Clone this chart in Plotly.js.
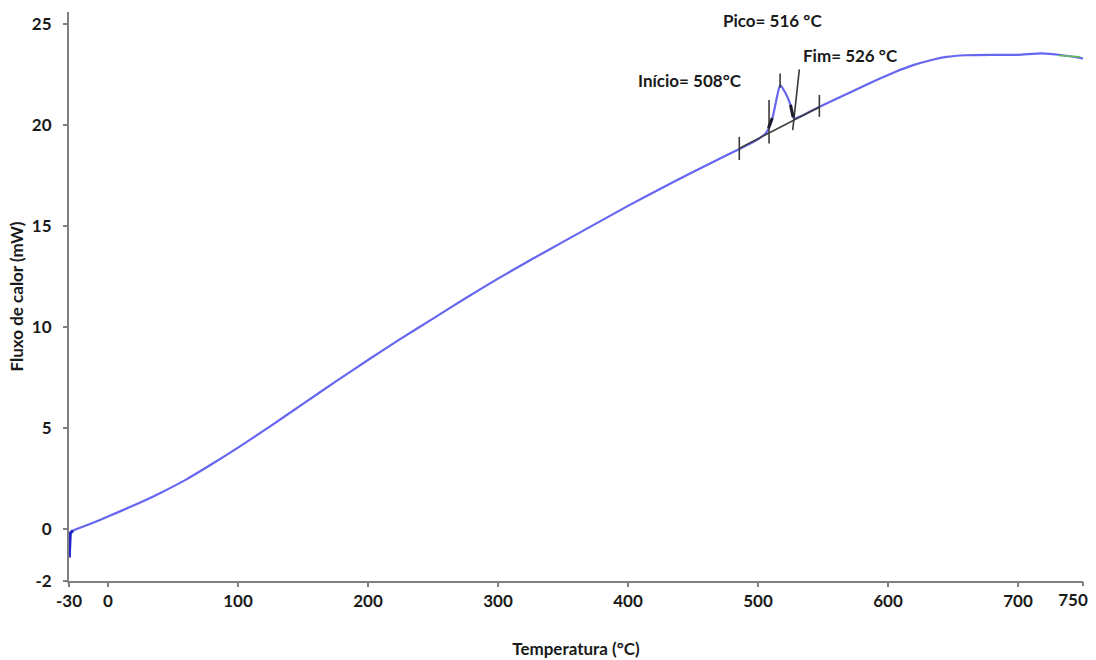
<!DOCTYPE html>
<html>
<head>
<meta charset="utf-8">
<script src="https://cdn.plot.ly/plotly-3.0.1.min.js"></script>
<style>
  html, body { margin: 0; padding: 0; background: #ffffff; }
  #chart { width: 1096px; height: 660px; }
</style>
</head>
<body>
<div id="chart"></div>
<script>
// DSC heating curve: heat flow (mW) versus temperature (°C)
const temperatura = [
  -29.8, -29.6, -29.4, -29.0, -27, -20, -10, 0, 20, 40, 60, 80, 100, 125, 150, 175, 200,
  225, 250, 275, 300, 325, 350, 375, 400, 425, 450, 475, 487, 500, 506, 509, 511.5, 514, 517,
  521, 525, 527.5, 535, 547, 572, 590, 605, 620, 632, 645, 660, 680, 700, 718, 733, 750
];
const fluxoCalor = [
  -1.4, -1.0, -0.5, -0.2, -0.08, 0.1, 0.35, 0.62, 1.18, 1.78, 2.45, 3.22, 4.03, 5.1, 6.2, 7.3, 8.37,
  9.42, 10.42, 11.43, 12.4, 13.32, 14.22, 15.11, 16.0, 16.85, 17.68, 18.48, 18.86, 19.3, 19.6, 19.95, 20.45, 21.2, 21.98,
  21.6, 21.0, 20.33, 20.5, 20.9, 21.65, 22.2, 22.62, 22.98, 23.2, 23.38, 23.46, 23.48, 23.48, 23.55, 23.47, 23.3
];

// Peak construction: extrapolated baseline and marker ticks
const baseT = [485.6, 547.2];
const baseY = [18.85, 20.9];
const marcasT = [485.6, 485.6, null, 508.5, 508.5, null, 517, 517, null, 531.8, 526.7, null, 547.2, 547.2];
const marcasY = [19.42, 18.27, null, 21.24, 19.09, null, 22.56, 21.85, null, 22.76, 19.75, null, 21.49, 20.41];
// heavier black strokes where onset and end meet the curve
const realceT = [508, 509.5, 511, null, 525, 526, 527];
const realceY = [19.85, 20.1, 20.35, null, 21.0, 20.7, 20.4];
// short green segment near the end of the run
const finalT = [731, 748];
const finalY = [23.45, 23.38];

const xTicks = [-30, 0, 100, 200, 300, 400, 500, 600, 700];
const xTickFinal = [750];   // drawn on a twin axis so its label can sit left of the tick
const yTickVals = [-2.57, 0, 5, 10, 15, 20, 25];
const yTickText = ['-2', '0', '5', '10', '15', '20', '25'];

const labelFont = { family: 'Lato, "Open Sans", sans-serif', size: 17, color: '#1a1a1a', weight: 700 };

const traces = [
  { x: temperatura, y: fluxoCalor, mode: 'lines', line: { color: '#6666f0', width: 2.2, shape: 'spline', smoothing: 0.5 }, hoverinfo: 'x+y' },
  { x: temperatura.slice(0, 5), y: fluxoCalor.slice(0, 5), mode: 'lines', line: { color: '#2323c8', width: 3 } },
  { x: baseT, y: baseY, mode: 'lines', line: { color: '#3a3a3a', width: 1.6 } },
  { x: marcasT, y: marcasY, mode: 'lines', line: { color: '#3a3a3a', width: 1.6 }, connectgaps: false },
  { x: realceT, y: realceY, mode: 'lines', line: { color: '#1a1a2a', width: 3 }, connectgaps: false },
  { x: finalT, y: finalY, xaxis: 'x2', mode: 'lines', line: { color: '#66bb55', width: 1.6 } }
];

const axisLook = {
  showgrid: false,
  zeroline: false,
  ticks: 'outside',
  ticklen: 4,
  tickwidth: 2,
  tickcolor: '#808080',
  tickfont: labelFont
};

const layout = {
  width: 1096,
  height: 660,
  margin: { l: 69, r: 13, t: 12, b: 79 },
  paper_bgcolor: '#ffffff',
  plot_bgcolor: '#ffffff',
  showlegend: false,
  font: labelFont,
  xaxis: Object.assign({}, axisLook, {
    range: [-30, 750],
    tickmode: 'array',
    tickvals: xTicks,
    ticktext: xTicks.map(String),
    ticklabeloverflow: 'allow',
    showline: true,
    linecolor: '#808080',
    linewidth: 2,
    title: { text: 'Temperatura (°C)', font: labelFont, standoff: 33 }
  }),
  xaxis2: Object.assign({}, axisLook, {
    overlaying: 'x',
    matches: 'x',
    anchor: 'y',
    side: 'bottom',
    range: [-30, 750],
    tickmode: 'array',
    tickvals: xTickFinal,
    ticktext: xTickFinal.map(String),
    ticklabelshift: -10,
    ticklabeloverflow: 'allow',
    showline: false
  }),
  yaxis: Object.assign({}, axisLook, {
    range: [-2.57, 25.6],
    tickmode: 'array',
    tickvals: yTickVals,
    ticktext: yTickText,
    ticklabeloverflow: 'allow',
    showline: true,
    linecolor: '#808080',
    linewidth: 2,
    ticklabelstandoff: 8,
    title: { text: 'Fluxo de calor (mW)', font: labelFont, standoff: 4 }
  }),
  annotations: [
    { x: 511.5, y: 25.2, xref: 'x', yref: 'y', text: 'Pico= 516 °C', showarrow: false, font: labelFont, xanchor: 'center', yanchor: 'middle' },
    { x: 570.8, y: 23.47, xref: 'x', yref: 'y', text: 'Fim= 526 °C', showarrow: false, font: labelFont, xanchor: 'center', yanchor: 'middle' },
    { x: 447.7, y: 22.23, xref: 'x', yref: 'y', text: 'Início= 508°C', showarrow: false, font: labelFont, xanchor: 'center', yanchor: 'middle' }
  ]
};

Plotly.newPlot('chart', traces, layout, { staticPlot: true, displayModeBar: false });
</script>
</body>
</html>
